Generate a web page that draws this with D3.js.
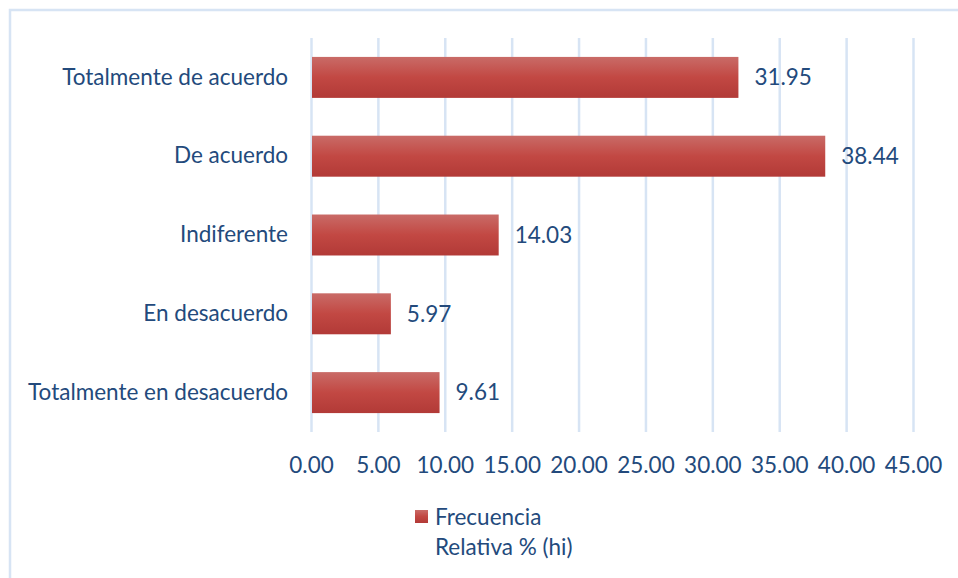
<!DOCTYPE html>
<html>
<head>
<meta charset="utf-8">
<script src="https://cdn.jsdelivr.net/npm/d3@7"></script>
<style>
  html, body { margin: 0; padding: 0; background: #ffffff; }
  svg { display: block; font-family: Lato, "Open Sans", sans-serif; }
</style>
</head>
<body>
<svg id="chart" width="958" height="578"></svg>
<script>
// Categories (top to bottom) and their relative frequency, in percent
const categories = [
  "Totalmente de acuerdo",
  "De acuerdo",
  "Indiferente",
  "En desacuerdo",
  "Totalmente en desacuerdo"
];
const values = [31.95, 38.44, 14.03, 5.97, 9.61];
const xTicks = [0, 5, 10, 15, 20, 25, 30, 35, 40, 45];
const seriesName = ["Frecuencia", "Relativa % (hi)"];

const textColor = "#234a7c";
const gridColor = "#d7e4f4";
const fontSize = 22.5;

const svg = d3.select("#chart");
const margin = { top: 38, left: 311, right: 45, bottom: 146 };
const width = 958, height = 578;

const x = d3.scaleLinear().domain([0, 45]).range([margin.left, width - margin.right]);
const y = d3.scaleBand().domain(categories)
  .range([margin.top, height - margin.bottom]).paddingInner(0.48).paddingOuter(0.24);

// Bar fill: vertical gradient, lighter at the top
const defs = svg.append("defs");
const grad = defs.append("linearGradient").attr("id", "barGrad")
  .attr("x1", 0).attr("y1", 0).attr("x2", 0).attr("y2", 1);
grad.append("stop").attr("offset", "0%").attr("stop-color", "#c96b67");
grad.append("stop").attr("offset", "50%").attr("stop-color", "#c24843");
grad.append("stop").attr("offset", "100%").attr("stop-color", "#b23a37");

// Outer frame
svg.append("path")
  .attr("d", `M10,${height} L10,10 L${width},10`)
  .attr("fill", "none").attr("stroke", gridColor).attr("stroke-width", 2.5);

// Vertical gridlines via the axis
const xAxis = d3.axisBottom(x).tickValues(xTicks).tickFormat(d3.format(".2f"))
  .tickSize(-(height - margin.bottom - margin.top)).tickPadding(25);
const gx = svg.append("g")
  .attr("transform", `translate(0,${height - margin.bottom})`)
  .call(xAxis);
gx.select(".domain").remove();
gx.selectAll(".tick line").attr("stroke", gridColor).attr("stroke-width", 2.5);
gx.selectAll(".tick text")
  .attr("fill", textColor).attr("font-size", fontSize).attr("font-family", "Lato, sans-serif");

// Category labels
const yAxis = d3.axisLeft(y).tickSize(0).tickPadding(23);
const gy = svg.append("g").attr("transform", `translate(${margin.left},0)`).call(yAxis);
gy.select(".domain").remove();
gy.selectAll(".tick text")
  .attr("fill", textColor).attr("font-size", fontSize).attr("font-family", "Lato, sans-serif");

// Bars
svg.append("g").selectAll("rect")
  .data(values)
  .join("rect")
  .attr("x", x(0) + 1)
  .attr("y", (d, i) => y(categories[i]))
  .attr("width", d => x(d) - x(0) - 1)
  .attr("height", y.bandwidth())
  .attr("fill", "url(#barGrad)");

// Value labels
svg.append("g").selectAll("text")
  .data(values)
  .join("text")
  .attr("x", d => x(d) + 16)
  .attr("y", (d, i) => y(categories[i]) + y.bandwidth() / 2)
  .attr("dy", "0.35em")
  .attr("fill", textColor)
  .attr("font-size", fontSize)
  .text(d => d.toFixed(2));

// Legend
const lg = svg.append("g");
lg.append("rect").attr("x", 415).attr("y", 510).attr("width", 13).attr("height", 13)
  .attr("fill", "url(#barGrad)");
lg.selectAll("text").data(seriesName).join("text")
  .attr("x", 435)
  .attr("y", (d, i) => 517 + i * 30)
  .attr("dy", "0.35em")
  .attr("fill", textColor)
  .attr("font-size", fontSize)
  .text(d => d);
</script>
</body>
</html>
